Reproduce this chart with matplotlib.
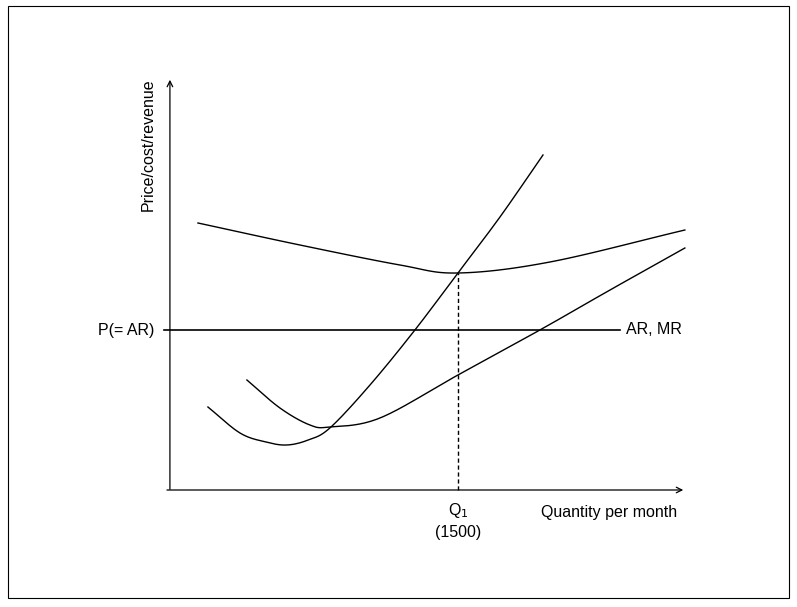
import matplotlib
matplotlib.use("Agg")
import numpy as np
import matplotlib.pyplot as plt
from matplotlib.patches import Rectangle

plt.rcParams["font.family"] = ["Liberation Sans", "DejaVu Sans"]

# quantity per month / price units
mc_q = [198, 365, 500, 609, 720, 833, 1042, 1276, 1500, 1719, 1943]
mc_p = [8.3, 5.7, 4.8, 4.5, 5.0, 6.2, 10.5, 16.0, 21.7, 27.3, 33.5]

ac_q = [401, 573, 729, 833, 1094, 1500, 1927, 2292, 2682]
ac_p = [11.0, 8.2, 6.5, 6.3, 7.2, 11.5, 16.0, 20.0, 24.2]

top_q = [146, 677, 1198, 1500, 1979, 2682]
top_p = [26.7, 24.5, 22.5, 21.7, 22.8, 26.0]

price = 16.0
q1 = 1500
ar_end = 2344


def smooth(xs, ys, n=20):
    # catmull-rom through the read points, just to round the corners
    p = np.column_stack([xs, ys]).astype(float)
    p = np.vstack([2 * p[0] - p[1], p, 2 * p[-1] - p[-2]])
    out = []
    t = np.linspace(0, 1, n, endpoint=False)[:, None]
    for i in range(1, len(p) - 2):
        p0, p1, p2, p3 = p[i - 1], p[i], p[i + 1], p[i + 2]
        seg = 0.5 * (2 * p1 + (-p0 + p2) * t + (2 * p0 - 5 * p1 + 4 * p2 - p3) * t ** 2
                     + (-p0 + 3 * p1 - 3 * p2 + p3) * t ** 3)
        out.append(seg)
    out.append(p[-2][None, :])
    out = np.vstack(out)
    return out[:, 0], out[:, 1]


fig = plt.figure(figsize=(7.97, 6.07), dpi=100)
ax = fig.add_axes([0, 0, 1, 1])
ax.set_xlim(-885, 3266)
ax.set_ylim(-11.7, 49)
ax.axis("off")

fig.patches.append(Rectangle((8 / 797, 9 / 607), 781 / 797, 592 / 607,
                             transform=fig.transFigure, fill=False, lw=0.8, ec="black"))

ax.annotate("", xy=(2688, 0), xytext=(-30, 0),
            arrowprops=dict(arrowstyle="->", lw=0.9, color="black"))
ax.annotate("", xy=(0, 41.3), xytext=(0, -0.2),
            arrowprops=dict(arrowstyle="->", lw=0.9, color="black"))

for xs, ys in [(mc_q, mc_p), (ac_q, ac_p), (top_q, top_p)]:
    ax.plot(*smooth(xs, ys), color="black", lw=1)
ax.plot([-30, ar_end], [price, price], color="black", lw=1.2)
ax.plot([q1, q1], [0, 21.7], color="black", lw=1, ls=(0, (3, 2)))

ax.text(-80, price, "P(= AR)", ha="right", va="center", fontsize=11.5)
ax.text(ar_end + 30, price, "AR, MR", ha="left", va="center", fontsize=11.5)
ax.text(-115, 34.5, "Price/cost/revenue", rotation=90, ha="center", va="center", fontsize=11.5)
ax.text(q1, -2.0, "Q$_1$", ha="center", va="center", fontsize=11.5)
ax.text(q1, -4.3, "(1500)", ha="center", va="center", fontsize=11.5)
ax.text(2287, -2.3, "Quantity per month", ha="center", va="center", fontsize=11.5)

fig.savefig("out.png", dpi=100)
